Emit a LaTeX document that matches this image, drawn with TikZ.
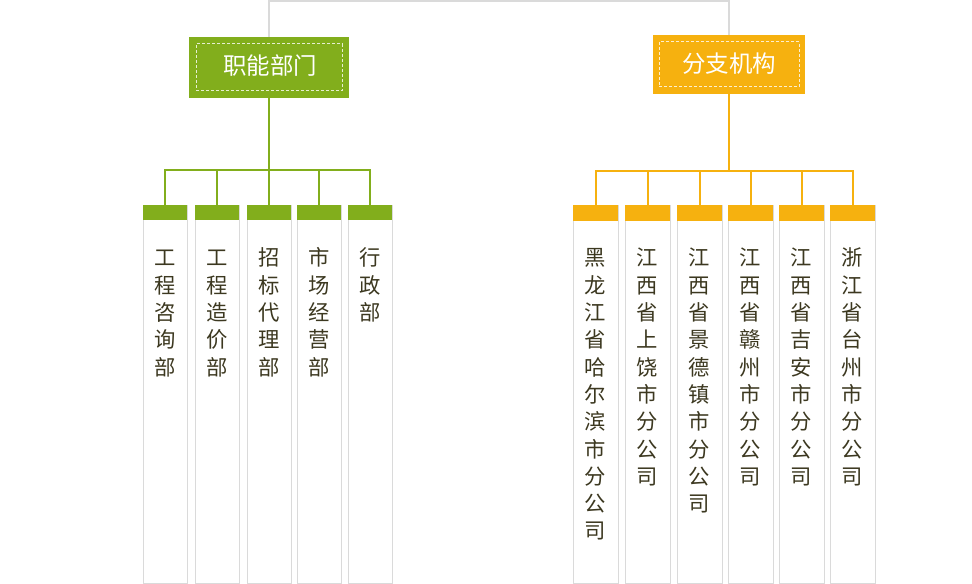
\documentclass[tikz,border=0pt]{standalone}
\usepackage{fontspec}
\setmainfont{Noto Sans CJK SC}
\usetikzlibrary{calc}
\definecolor{grn}{HTML}{82AE1C}
\definecolor{org}{HTML}{F6B10F}
\definecolor{ln}{HTML}{DADADA}
\definecolor{txt}{HTML}{3C3820}
\newcommand\vcol[3]{%
  \foreach \c [count=\i from 0] in {#3} {\node[chr] (#1-\i) at (#2, 266+27.3*\i) {\c};}}
\begin{document}
\begin{tikzpicture}[x=0.75pt,y=-0.75pt,
  head/.style={inner sep=0, minimum width=160*0.75pt, minimum height=61*0.75pt},
  headtxt/.style={inner sep=0, text=white, font=\fontsize{17.6}{20}\selectfont},
  dashbox/.style={draw=white!80!#1, dash pattern=on 3*0.75pt off 2*0.75pt, line width=0.75pt, inner sep=0, minimum width=146*0.75pt, minimum height=47*0.75pt},
  tabbox/.style={fill=#1, inner sep=0, minimum height=15*0.75pt, anchor=north west},
  colbox/.style={draw=ln, line width=0.9pt, inner sep=0, minimum height=378*0.75pt, anchor=north west},
  chr/.style={inner sep=0, anchor=base, text=txt, font=\fontsize{16}{18}\selectfont},
  conn/.style={line width=1.5pt, draw=#1},
  topline/.style={line width=1.5pt, draw=ln}]
\useasboundingbox (0,0) rectangle (972,584);
% headers
\node[head, fill=grn] (g) at (269,67.5) {};
\node[dashbox=grn] (gd) at (g.center) {};
\node[headtxt] (gt) at (270,66) {职能部门};
\node[head, fill=org, minimum width=152*0.75pt, minimum height=59*0.75pt] (o) at (729,64.5) {};
\node[dashbox=org, minimum width=140*0.75pt, minimum height=45*0.75pt] (od) at (o.center) {};
\node[headtxt] (ot) at (729,64) {分支机构};
% top grey link
\coordinate (top) at (500,1);
\draw[topline] (g.north) |- (top) -| (o.north);
% green columns
\foreach \n/\x in {1/143,2/195,3/247,4/297,5/348}{
  \node[colbox, minimum width=44*0.75pt] (gc\n) at (\x,205) {};
  \node[tabbox=grn, minimum width=44*0.75pt, minimum height=14.5*0.75pt] (gtab\n) at (\x,205) {};
}
% orange columns
\foreach \n/\x in {1/573,2/625,3/677,4/728,5/779,6/830}{
  \node[colbox, minimum width=45*0.75pt] (oc\n) at (\x,205) {};
  \node[tabbox=org, minimum width=45*0.75pt, minimum height=15.5*0.75pt] (otab\n) at (\x,205) {};
}
% green connectors
\coordinate (gbus) at (269,170);
\draw[conn=grn] (g.south) -- (gbus);
\foreach \n in {1,...,5}{\draw[conn=grn] (gbus) -| (gtab\n.north);}
% orange connectors
\coordinate (obus) at (729,171);
\draw[conn=org] (o.south) -- (obus);
\foreach \n in {1,...,6}{\draw[conn=org] (obus) -| (otab\n.north);}
% texts
\vcol{ga}{165}{工,程,咨,询,部}
\vcol{gb}{217}{工,程,造,价,部}
\vcol{gc}{269}{招,标,代,理,部}
\vcol{gdd}{319}{市,场,经,营,部}
\vcol{ge}{370}{行,政,部}
\vcol{oa}{595.5}{黑,龙,江,省,哈,尔,滨,市,分,公,司}
\vcol{ob}{647.5}{江,西,省,上,饶,市,分,公,司}
\vcol{oc}{699.5}{江,西,省,景,德,镇,市,分,公,司}
\vcol{odd}{750.5}{江,西,省,赣,州,市,分,公,司}
\vcol{oe}{801.5}{江,西,省,吉,安,市,分,公,司}
\vcol{of}{852.5}{浙,江,省,台,州,市,分,公,司}
\end{tikzpicture}
\end{document}
